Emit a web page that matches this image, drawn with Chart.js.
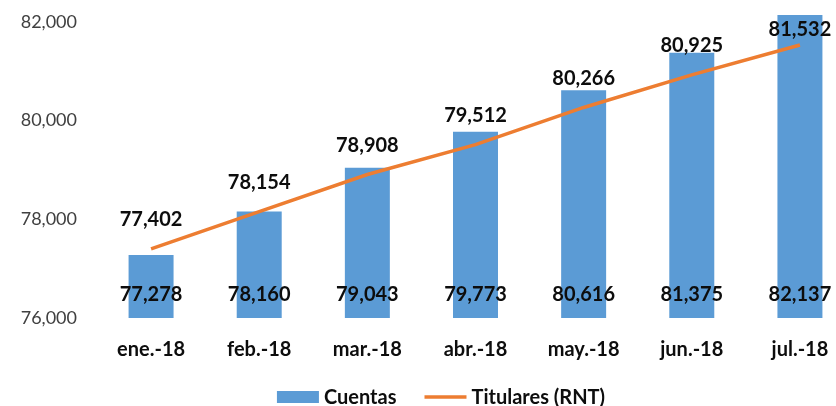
<!DOCTYPE html>
<html>
<head>
<meta charset="utf-8">
<script src="https://cdn.jsdelivr.net/npm/chart.js@4"></script>
<style>
  html, body { margin: 0; padding: 0; background: #fff; overflow: hidden; }
  #wrap { width: 860px; height: 406px; }
</style>
</head>
<body>
<div id="wrap"><canvas id="chart"></canvas></div>
<script>
// Months shown on the x axis
const months = ['ene.-18', 'feb.-18', 'mar.-18', 'abr.-18', 'may.-18', 'jun.-18', 'jul.-18'];
// Bar series
const cuentas = [77278, 78160, 79043, 79773, 80616, 81375, 82137];
// Line series
const titulares = [77402, 78154, 78908, 79512, 80266, 80925, 81532];
// Y tick values to show
const yTicks = [76000, 78000, 80000, 82000];

const FONT = 'Lato, "Open Sans", sans-serif';

// Draws value labels: bars at the bottom inside, line points above
const valueLabels = {
  id: 'valueLabels',
  afterDatasetsDraw(chart) {
    const ctx = chart.ctx;
    ctx.save();
    ctx.font = 'bold 20px ' + FONT;
    ctx.fillStyle = '#0d0d0d';
    ctx.textAlign = 'center';
    ctx.textBaseline = 'middle';
    const base = chart.scales.y.getPixelForValue(76000);
    chart.getDatasetMeta(1).data.forEach((el, i) => {
      ctx.fillText(cuentas[i].toLocaleString('en-US'), el.x, base - 23);
    });
    chart.getDatasetMeta(0).data.forEach((el, i) => {
      ctx.fillText(titulares[i].toLocaleString('en-US'), el.x, Math.max(el.y - 29, 30));
    });
    ctx.restore();
  }
};

// Bottom legend: bar swatch + line swatch
const bottomLegend = {
  id: 'bottomLegend',
  afterDraw(chart) {
    const ctx = chart.ctx;
    const ds = chart.data.datasets;
    const items = [ds[1], ds[0]];
    const sw = 42, gapText = 5, gapItem = 28;
    ctx.save();
    ctx.font = 'bold 20px ' + FONT;
    ctx.textBaseline = 'middle';
    ctx.textAlign = 'left';
    const widths = items.map(d => sw + gapText + ctx.measureText(d.label).width);
    const total = widths.reduce((a, b) => a + b, 0) + gapItem * (items.length - 1);
    let x = 441 - total / 2;
    const y = 397;
    items.forEach((d, i) => {
      if (d.type === 'bar') {
        ctx.fillStyle = d.backgroundColor;
        ctx.fillRect(x, y - 6, sw, 12);
      } else {
        ctx.strokeStyle = d.borderColor;
        ctx.lineWidth = 3.5;
        ctx.beginPath();
        ctx.moveTo(x, y);
        ctx.lineTo(x + sw, y);
        ctx.stroke();
      }
      ctx.fillStyle = '#0d0d0d';
      ctx.fillText(d.label, x + sw + gapText, y + 1);
      x += widths[i] + gapItem;
    });
    ctx.restore();
  }
};

new Chart(document.getElementById('chart'), {
  data: {
    labels: months,
    datasets: [
      {
        type: 'line',
        label: 'Titulares (RNT)',
        data: titulares,
        borderColor: '#ED7D31',
        backgroundColor: '#ED7D31',
        borderWidth: 3.5,
        pointRadius: 0,
        tension: 0,
        order: 0
      },
      {
        type: 'bar',
        label: 'Cuentas',
        data: cuentas,
        backgroundColor: '#5B9BD5',
        borderWidth: 0,
        categoryPercentage: 1,
        barPercentage: 0.416,
        order: 1
      }
    ]
  },
  options: {
    responsive: true,
    maintainAspectRatio: false,
    animation: false,
    layout: { padding: { top: 12, right: 6, left: 20, bottom: 46 } },
    scales: {
      x: {
        grid: { display: false, drawTicks: false },
        border: { display: false },
        // fixed axis height so the plot area lands where the reference has it
        afterFit(axis) {
          axis.height = 42;
          axis.paddingLeft = 0;
          axis.paddingRight = 0;
        },
        ticks: {
          color: '#0d0d0d',
          font: { family: FONT, size: 20, weight: 'bold' },
          padding: 20
        }
      },
      y: {
        min: 76000,
        max: 82200,
        grid: { display: false, drawTicks: false },
        border: { display: false },
        afterBuildTicks(axis) {
          axis.ticks = yTicks.map(v => ({ value: v }));
        },
        afterFit(axis) {
          axis.width = 77;
          axis.paddingTop = 0;
          axis.paddingBottom = 0;
        },
        ticks: {
          color: '#404040',
          font: { family: FONT, size: 18 },
          padding: 20,
          callback: v => v.toLocaleString('en-US')
        }
      }
    },
    plugins: {
      legend: { display: false },
      tooltip: { enabled: false }
    }
  },
  plugins: [valueLabels, bottomLegend]
});
</script>
</body>
</html>
